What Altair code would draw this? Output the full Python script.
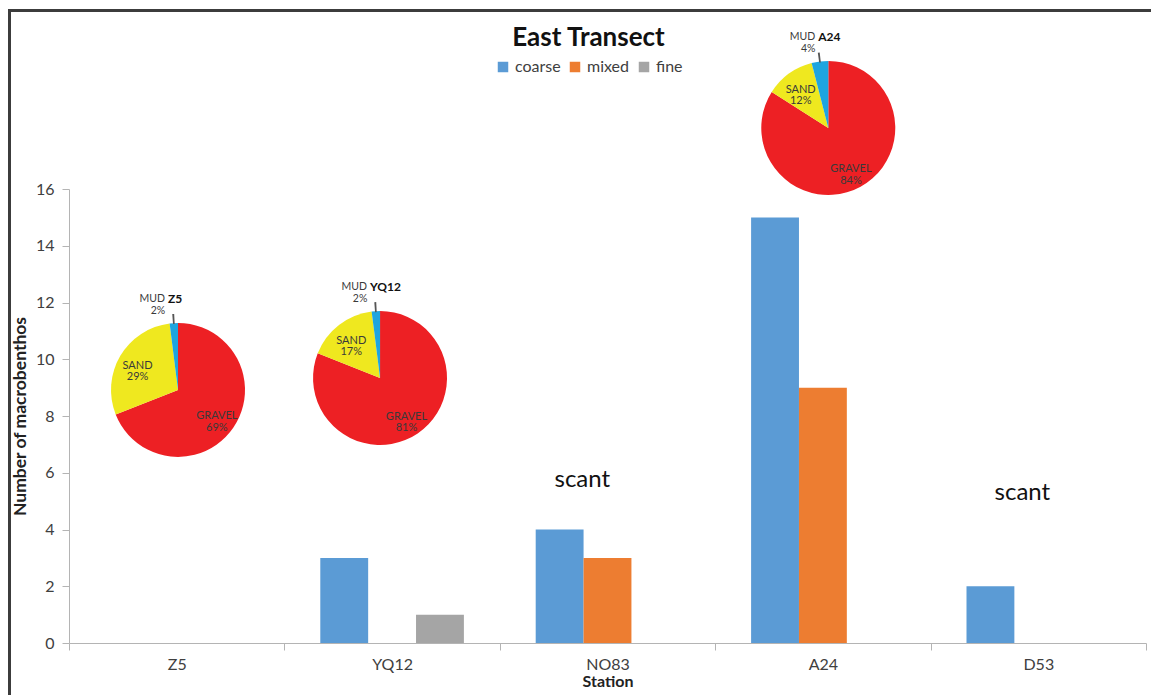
import math
import altair as alt
import pandas as pd

# ---- bar data ----
stations = ["Z5", "YQ12", "NO83", "A24", "D53"]
series = ["coarse", "mixed", "fine"]
coarse = [0, 3, 4, 15, 2]
mixed = [0, 0, 3, 9, 0]
fine = [0, 1, 0, 0, 0]
series_colors = ["#5b9bd5", "#ed7d31", "#a5a5a5"]

# ---- sediment pies ----
pie_stations = ["Z5", "YQ12", "A24"]
gravel = [69, 81, 84]
sand = [29, 17, 12]
mud = [2, 2, 4]
components = ["GRAVEL", "SAND", "MUD"]
component_colors = ["#ed2024", "#efe81f", "#1ea5df"]
pie_x = [0.506, 1.444, 3.525]   # position along the station axis (band units)
pie_y = [8.92, 9.34, 18.15]     # position on the y axis

# ---- notes ----
note_text = ["scant", "scant"]
note_x = [2.383, 4.426]
note_y = [5.74, 5.29]

FONT = "Lato"
W, H = 1077, 454

bar_rows = []
for i, s in enumerate(stations):
    for name, vals in zip(series, [coarse, mixed, fine]):
        bar_rows.append({"station": s, "series": name, "value": vals[i]})
bar_df = pd.DataFrame(bar_rows)

pie_rows = []
for i, s in enumerate(pie_stations):
    for k, (c, vals) in enumerate(zip(components, [gravel, sand, mud])):
        pie_rows.append({"station": s, "component": c, "pct": vals[i], "order": k,
                         "px": pie_x[i], "py": pie_y[i]})
pie_df = pd.DataFrame(pie_rows)

note_df = pd.DataFrame({"text": note_text, "nx": note_x, "ny": note_y})

xq = alt.Scale(domain=[0, 5], nice=False, zero=False)
tscale = alt.Scale(domain=[0, 100], range=[0, 2 * math.pi])


def ys():
    return alt.Scale(domain=[0, 16], nice=False, zero=True)


bars = alt.Chart(bar_df).mark_bar().encode(
    x=alt.X("station:N", sort=stations, title="Station",
            scale=alt.Scale(paddingInner=0, paddingOuter=0),
            axis=alt.Axis(labelAngle=0, tickBand="extent", grid=False,
                          domainColor="#b4b4b4", tickColor="#b4b4b4", tickSize=7,
                          labelFont=FONT, labelFontSize=16, labelColor="#404040",
                          labelPadding=6, titleFont=FONT, titleFontSize=16,
                          titleFontWeight="bold", titleColor="#222222", titlePadding=1)),
    xOffset=alt.XOffset("series:N", sort=series,
                        scale=alt.Scale(paddingInner=0, paddingOuter=0.75)),
    y=alt.Y("value:Q", scale=ys(), title="Number of macrobenthos",
            axis=alt.Axis(values=list(range(0, 17, 2)), grid=False,
                          domainColor="#b4b4b4", tickColor="#b4b4b4", tickSize=7,
                          labelFont=FONT, labelFontSize=16, labelColor="#404040",
                          labelPadding=8, titleFont=FONT, titleFontSize=17.5,
                          titleFontWeight="bold", titleColor="#222222", titlePadding=6)),
    color=alt.Color("series:N", sort=series,
                    scale=alt.Scale(domain=series, range=series_colors),
                    legend=alt.Legend(orient="none", legendX=426, legendY=-130,
                                      direction="horizontal", title=None,
                                      symbolType="square", symbolSize=110,
                                      symbolStrokeWidth=0, labelFont=FONT,
                                      labelFontSize=16, labelColor="#404040",
                                      labelOffset=4, columnPadding=6)),
)

pie_base = alt.Chart(pie_df).transform_stack(
    stack="pct", groupby=["station"], as_=["t0", "t1"],
    sort=[alt.SortField("order", order="ascending")]
).transform_calculate(
    mid="(datum.t0 + datum.t1) / 2",
    lo="(datum.t0 + datum.t1) / 2 - 0.2",
    hi="(datum.t0 + datum.t1) / 2 + 0.2",
    label="datum.component + '\\n' + datum.pct + '%'",
    pctlabel="datum.pct + '%'",
)
px = alt.X("px:Q", scale=xq, axis=None)
py = alt.Y("py:Q", scale=ys(), axis=None)

pies = pie_base.mark_arc(radius=67).encode(
    x=px, y=py,
    theta=alt.Theta("t0:Q", scale=tscale, stack=False),
    theta2="t1:Q",
    color=alt.Color("component:N", scale=alt.Scale(domain=components, range=component_colors),
                    legend=None),
)

inner_labels = pie_base.transform_filter("datum.component != 'MUD'").mark_text(
    radius=47, lineBreak="\n", font=FONT, fontSize=11, color="#3a3a3a",
    align="center", baseline="middle", lineHeight=11.5,
).encode(
    x=px, y=py,
    theta=alt.Theta("mid:Q", scale=tscale, stack=False),
    text="label:N",
)

mud_only = pie_base.transform_filter("datum.component == 'MUD'")
leader = mud_only.mark_arc(radius=76, radius2=66, color="#555555").encode(
    x=px, y=py,
    theta=alt.Theta("lo:Q", scale=tscale, stack=False),
    theta2="hi:Q",
)
mud_name = mud_only.mark_text(text="MUD", font=FONT, fontSize=10.5, color="#3a3a3a",
                              dx=-13, dy=-91, align="right", baseline="middle").encode(
    x=px, y=py)
mud_pct = mud_only.mark_text(font=FONT, fontSize=10.5, color="#3a3a3a",
                             dx=-20, dy=-79, align="center", baseline="middle").encode(
    x=px, y=py, text="pctlabel:N")
pie_title = mud_only.mark_text(font=FONT, fontSize=12, fontWeight="bold", color="#111111",
                               dx=-10, dy=-91, align="left", baseline="middle").encode(
    x=px, y=py, text="station:N")

notes = alt.Chart(note_df).mark_text(font=FONT, fontSize=24, color="#111111",
                                     align="center", baseline="middle").encode(
    x=alt.X("nx:Q", scale=xq, axis=None),
    y=alt.Y("ny:Q", scale=ys(), axis=None),
    text="text:N",
)

frame_top = alt.Chart(note_df.head(1)).mark_rule(color="#3c3c3c", strokeWidth=3).encode(
    x=alt.value(-60), x2=alt.value(W + 20), y=alt.value(-178.5))
frame_left = alt.Chart(note_df.head(1)).mark_rule(color="#3c3c3c", strokeWidth=3).encode(
    x=alt.value(-59.5), y=alt.value(-180), y2=alt.value(H + 60))

chart = alt.layer(
    bars, pies, inner_labels, leader, mud_name, mud_pct, pie_title, notes,
    frame_top, frame_left,
).resolve_scale(
    x="independent", y="independent", color="independent"
).properties(
    width=W, height=H,
    autosize=alt.AutoSizeParams(type="none"),
    padding={"left": 61, "top": 181, "right": 5, "bottom": 52},
    title=alt.TitleParams("East Transect", font=FONT, fontSize=26, fontWeight="bold",
                          color="#111111", anchor="middle", frame="group", dx=-19, dy=47),
).configure(background="white").configure_view(stroke=None)

chart.save("out.html", embed_options={"renderer": "svg", "actions": False})
